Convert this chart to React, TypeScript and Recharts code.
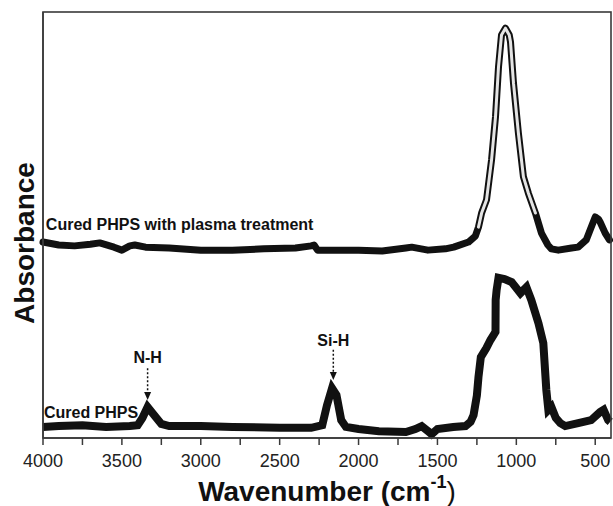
import React from 'react';
import { LineChart, Line, XAxis, YAxis, ReferenceLine, ReferenceDot, Label } from 'recharts';

// Cured PHPS with plasma treatment (upper trace)
const plasmaWavenumber = [4000, 3900, 3800, 3700, 3640, 3550, 3500, 3450, 3418, 3350, 3200, 3000, 2800, 2600, 2400, 2300, 2282, 2260, 2000, 1850, 1700, 1663, 1560, 1450, 1397, 1303, 1260, 1240, 1220, 1189, 1157, 1132, 1113, 1094, 1069, 1045, 1037, 1018, 987, 955, 924, 879, 841, 800, 778, 734, 650, 608, 557, 520, 500, 480, 469, 437, 410];
const plasmaAbsorbance = [0.460, 0.453, 0.451, 0.455, 0.458, 0.448, 0.441, 0.451, 0.453, 0.448, 0.446, 0.441, 0.441, 0.444, 0.446, 0.451, 0.453, 0.441, 0.441, 0.439, 0.446, 0.448, 0.441, 0.444, 0.448, 0.460, 0.474, 0.495, 0.528, 0.559, 0.653, 0.754, 0.871, 0.946, 0.962, 0.946, 0.930, 0.833, 0.716, 0.613, 0.575, 0.528, 0.481, 0.453, 0.444, 0.441, 0.446, 0.448, 0.465, 0.500, 0.519, 0.514, 0.507, 0.481, 0.465];

// Cured PHPS (lower trace)
const curedWavenumber = [4000, 3900, 3750, 3600, 3450, 3400, 3370, 3337, 3300, 3250, 3200, 3000, 2800, 2500, 2300, 2230, 2200, 2168, 2140, 2110, 2080, 2000, 1871, 1700, 1640, 1600, 1560, 1537, 1500, 1400, 1322, 1290, 1271, 1250, 1240, 1225, 1190, 1164, 1132, 1131, 1125, 1113, 1075, 1030, 974, 936, 905, 860, 829, 810, 797, 778, 750, 721, 690, 608, 526, 469, 447, 418, 405];
const curedAbsorbance = [0.026, 0.028, 0.030, 0.026, 0.028, 0.030, 0.047, 0.073, 0.056, 0.033, 0.028, 0.028, 0.026, 0.024, 0.024, 0.030, 0.077, 0.117, 0.101, 0.042, 0.026, 0.021, 0.016, 0.014, 0.021, 0.028, 0.016, 0.009, 0.021, 0.026, 0.028, 0.038, 0.054, 0.100, 0.143, 0.190, 0.211, 0.230, 0.249, 0.324, 0.347, 0.376, 0.373, 0.366, 0.340, 0.354, 0.324, 0.270, 0.223, 0.113, 0.066, 0.073, 0.047, 0.035, 0.028, 0.035, 0.042, 0.061, 0.066, 0.042, 0.038];

const xTicks = [4000, 3750, 3500, 3250, 3000, 2750, 2500, 2250, 2000, 1750, 1500, 1250, 1000, 750, 500];
const xTickLabels = ['4000', '', '3500', '', '3000', '', '2500', '', '2000', '', '1500', '', '1000', '', '500'];
const xDomain = [400, 4000];
const yDomain = [0, 1];

const seriesNames = ['Cured PHPS with plasma treatment', 'Cured PHPS'];
const peakNames = ['N-H', 'Si-H'];
const peakWavenumbers = [3337, 2160];
const peakLabelY = [0.188, 0.230];
const peakArrowTop = [0.164, 0.207];
const peakArrowTip = [0.089, 0.136];

const plasmaData = plasmaWavenumber.map((x, i) => ({ x, y: plasmaAbsorbance[i] }));
const plasmaHollow = plasmaData.filter((d) => d.x <= 1250 && d.x >= 870);
const curedData = curedWavenumber.map((x, i) => ({ x, y: curedAbsorbance[i] }));

const FONT = '"Liberation Sans", Arial, sans-serif';
const FRAME = '#3a3a3a';

const W = 613;
const H = 506;
const MARGIN = { top: 12, right: 2, bottom: 0, left: 0 };
const Y_AXIS_W = 43;
const X_AXIS_H = 68;

export default function App() {
  const plotX = MARGIN.left + Y_AXIS_W;
  const plotY = MARGIN.top;
  const plotW = W - MARGIN.right - plotX;
  const plotH = H - MARGIN.bottom - X_AXIS_H - plotY;
  return (
    <div style={{ position: 'absolute', left: 0, top: 0, width: W, height: H, background: '#fff' }}>
      <LineChart width={W} height={H} margin={MARGIN}>
        <XAxis
          type="number"
          dataKey="x"
          domain={xDomain}
          reversed
          ticks={xTicks}
          interval={0}
          height={X_AXIS_H}
          axisLine={{ stroke: FRAME, strokeWidth: 1.5 }}
          tickSize={7}
          tickMargin={9}
          tickLine={{ stroke: FRAME, strokeWidth: 1.5 }}
          tickFormatter={(v: number) => xTickLabels[xTicks.indexOf(v)] ?? ''}
          tick={{ fill: '#222', fontSize: 18, fontFamily: FONT }}
        >
          <Label
            content={() => (
              <text x={327} y={491} textAnchor="middle" dominantBaseline="central" fontFamily={FONT} fill="#111">
                <tspan fontSize={28} fontWeight="bold">Wavenumber (cm</tspan>
                <tspan fontSize={18} fontWeight="bold" dy={-9}>-1</tspan>
                <tspan fontSize={28} dy={9}>)</tspan>
              </text>
            )}
          />
        </XAxis>
        <YAxis type="number" domain={yDomain} width={Y_AXIS_W} tick={false} tickLine={false} axisLine={{ stroke: FRAME, strokeWidth: 1.5 }}>
          <Label
            content={() => (
              <text
                x={24}
                y={243}
                transform="rotate(-90 24 243)"
                textAnchor="middle"
                dominantBaseline="central"
                fontSize={28}
                fontWeight="bold"
                fontFamily={FONT}
                fill="#111"
              >
                Absorbance
              </text>
            )}
          />
        </YAxis>
        <Line
          data={plasmaData}
          dataKey="y"
          type="linear"
          stroke="#111"
          strokeWidth={7}
          dot={false}
          isAnimationActive={false}
          strokeLinejoin="round"
          strokeLinecap="round"
        />
        <Line
          data={plasmaHollow}
          dataKey="y"
          type="linear"
          stroke="#e4e4e4"
          strokeWidth={3}
          dot={false}
          isAnimationActive={false}
          strokeLinejoin="round"
          strokeLinecap="round"
        />
        <Line
          data={curedData}
          dataKey="y"
          type="linear"
          stroke="#111"
          strokeWidth={8}
          dot={false}
          isAnimationActive={false}
          strokeLinejoin="miter"
        />
        <ReferenceDot
          x={3982}
          y={0.502}
          r={0}
          shape={(p: any) => (
            <text x={p.cx} y={p.cy} dominantBaseline="central" fontSize={16} fontWeight="bold" fontFamily={FONT} fill="#111">
              {seriesNames[0]}
            </text>
          )}
        />
        <ReferenceDot
          x={3994}
          y={0.061}
          r={0}
          shape={(p: any) => (
            <text x={p.cx} y={p.cy} dominantBaseline="central" fontSize={16} fontWeight="bold" fontFamily={FONT} fill="#111">
              {seriesNames[1]}
            </text>
          )}
        />
        {peakNames.map((name, i) => (
          <ReferenceDot
            key={'lbl' + name}
            x={peakWavenumbers[i]}
            y={peakLabelY[i]}
            r={0}
            shape={(p: any) => (
              <text x={p.cx} y={p.cy} textAnchor="middle" dominantBaseline="central" fontSize={16} fontWeight="bold" fontFamily={FONT} fill="#111">
                {name}
              </text>
            )}
          />
        ))}
        {peakNames.map((name, i) => (
          <ReferenceLine
            key={'arr' + name}
            segment={[
              { x: peakWavenumbers[i], y: peakArrowTop[i] },
              { x: peakWavenumbers[i], y: peakArrowTip[i] + 0.015 },
            ]}
            stroke="#111"
            strokeWidth={1.5}
            strokeDasharray="2 2"
          />
        ))}
        {peakNames.map((name, i) => (
          <ReferenceDot
            key={'tip' + name}
            x={peakWavenumbers[i]}
            y={peakArrowTip[i]}
            r={0}
            shape={(p: any) => (
              <path d={`M${p.cx - 3.5},${p.cy - 8}L${p.cx + 3.5},${p.cy - 8}L${p.cx},${p.cy}Z`} fill="#111" />
            )}
          />
        ))}
      </LineChart>
      <svg
        width={W}
        height={H}
        style={{ position: 'absolute', left: 0, top: 0, pointerEvents: 'none' }}
      >
        <rect x={plotX} y={plotY} width={plotW} height={plotH} fill="none" stroke={FRAME} strokeWidth={1.6} />
      </svg>
    </div>
  );
}
